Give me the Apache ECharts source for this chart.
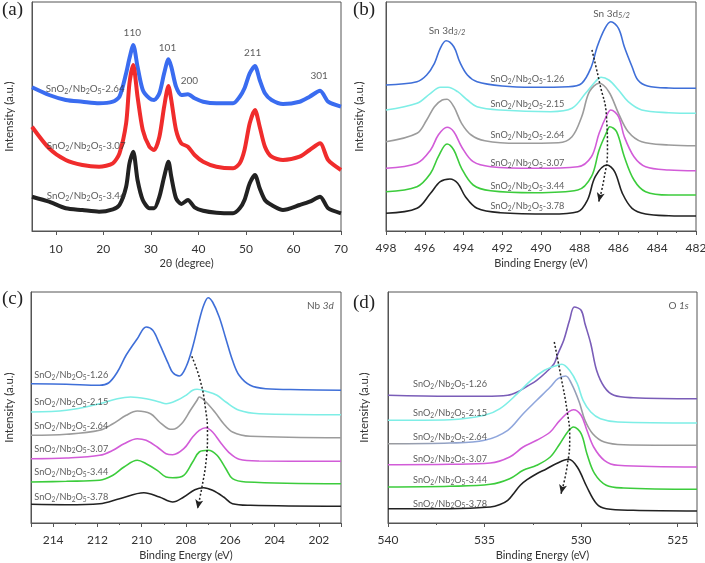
<!DOCTYPE html>
<html><head><meta charset="utf-8">
<script src="https://cdn.jsdelivr.net/npm/echarts@6/dist/echarts.min.js"></script>
<style>html,body{margin:0;padding:0;background:#fff}#c{width:705px;height:563px}</style>
</head><body><div id="c"></div>
<script>
// ---------------- DATA ----------------
const samples = ['1.26', '2.15', '2.64', '3.07', '3.44', '3.78'];
const xrdSamples = ['2.64', '3.07', '3.44'];
const xrdPeaks = ['110', '101', '200', '211', '301'];

// (a) XRD, 2θ (degree)
const xrdX = [5, 8.6, 12.1, 15.6, 19.1, 22.0, 23.4, 24.8, 25.5, 26.3, 27.2, 28.3, 29.7, 30.7, 31.8, 32.8, 33.7, 34.3, 35.3, 36.4, 37.8, 39.2, 41.0, 43.8, 47.3, 48.7, 49.7, 50.8, 51.9, 52.9, 54.0, 55.4, 57.8, 61.3, 63.4, 65.6, 67.3, 70];
const xrd264 = [143.7, 136, 131, 129.3, 127.7, 129.3, 134.3, 157.7, 172.7, 186, 164.3, 141, 132.7, 131, 137.7, 157.7, 171.7, 164.3, 144.3, 136, 136.7, 132.7, 129.3, 127.7, 127.7, 134.3, 142.7, 157.7, 165, 151, 137.7, 131, 127, 129.3, 134.3, 140.3, 129.3, 124.3];
const xrd307 = [104.3, 82.7, 71, 66, 64.3, 67.7, 77.7, 107.7, 147.7, 166, 134.3, 101, 84.3, 81, 94.3, 124.3, 145, 131, 101, 87.7, 84.3, 76, 69.3, 64.3, 62.7, 67.7, 81, 107.7, 121, 104.3, 84.3, 74.3, 71, 74.3, 81, 87.7, 71, 61];
const xrd344 = [34.3, 29.3, 22.7, 21, 19.3, 21.7, 26, 44.3, 67.7, 79.3, 51, 31, 22.7, 22.7, 34.3, 54.3, 69.3, 54.3, 32.7, 27, 31, 23.7, 20.3, 18.3, 17.7, 22.7, 31, 47.7, 56, 42.7, 31, 26, 21, 26, 29.3, 34.3, 22.7, 17.7];

// (b) Sn 3d  [binding energy, intensity]
const sn126 = [[498,146],[496.4,149.3],[495.9,156],[495.5,167.7],[495.2,182.7],[494.9,190.3],[494.5,184.3],[494.2,169.3],[493.8,156],[493.3,149.3],[492,145],[490.4,143.7],[488.6,144.3],[487.9,147.7],[487.4,164.3],[487.1,184.3],[486.7,202.7],[486.4,209.3],[486,202.7],[485.7,184.3],[485.3,164.3],[485,151],[484.5,145],[483.4,143],[482,142.7]];
const sn215 = [[498,121],[496.4,127.7],[495.7,137.7],[495.2,143.7],[494.8,143.7],[494.3,139.3],[493.8,131],[493.3,124.3],[492.1,121],[489.5,119.3],[488.4,122.7],[487.7,137.7],[487.2,149.3],[486.9,153.7],[486.5,151],[486,141],[485.5,129.3],[484.8,121],[483.4,118.3],[482,117.7]];
const sn264 = [[498,89.3],[496.4,97.7],[495.9,111],[495.5,124.3],[495.1,131],[494.85,131.7],[494.5,124.3],[494.1,107.7],[493.6,96],[492.9,90.3],[491.2,87.7],[489.1,88.3],[488.4,94.3],[487.9,114.3],[487.5,139.3],[487,147.7],[486.5,139.3],[486,117.7],[485.5,99.3],[484.8,89.3],[483.4,86],[482,85.3]];
const sn307 = [[498,62.7],[496.4,67.7],[495.7,81],[495.3,96],[494.85,103.7],[494.5,99.3],[494.1,84.3],[493.5,69.3],[492.6,64.3],[490.3,62.7],[488.1,64.3],[487.4,74.3],[487,97.7],[486.6,116],[486.4,121],[486,114.3],[485.7,94.3],[485.2,74.3],[484.6,64.3],[483.4,61],[482,60.3]];
const sn344 = [[498,39.3],[496.4,44.3],[495.7,57.7],[495.3,74.3],[494.85,87],[494.5,81],[494.1,62.7],[493.5,46],[492.6,40.3],[490.3,38.3],[488.1,41],[487.4,54.3],[487,81],[486.6,99.3],[486.45,104.3],[486.1,99.3],[485.7,74.3],[485.2,51],[484.6,39.3],[483.4,36],[482,36]];
const sn378 = [[498,17.7],[496.4,22.7],[495.7,37.7],[495.2,49.3],[494.7,52],[494.3,47.7],[493.9,34.3],[493.3,22.7],[492.1,18.3],[489.5,17],[488.1,19.3],[487.6,31],[487.2,54.3],[486.6,66],[486.2,59.3],[485.8,37.7],[485.3,22.7],[484.6,17],[483.4,15.3],[482,15]];

// (c) Nb 3d
const nb126 = [[215,139.3],[213.4,138.7],[211.9,137.7],[211.5,140],[211.1,151],[210.7,168],[210.2,184.3],[209.8,196],[209.5,192.7],[209.2,179.3],[208.8,159.3],[208.6,150.5],[208.3,147],[208,156],[207.7,176],[207.4,202.7],[207.2,217.7],[207,225.3],[206.8,221],[206.5,206],[206.2,184.3],[205.9,162.7],[205.6,147.7],[205.1,137.7],[204.4,134.3],[202.8,133.3],[201,132.7]];
const nb215 = [[215,111],[213.4,112.7],[211.9,119.3],[211.1,124.3],[210.5,126],[209.8,124.3],[209.2,121],[208.9,119.3],[208.4,122.7],[208,127.7],[207.7,132.7],[207.5,133.7],[207.1,131.7],[206.6,127.7],[206.2,121],[205.6,112.7],[204.7,109.3],[201,108.3]];
const nb264 = [[215,87.7],[213.4,88.7],[211.9,92.7],[211.3,99.3],[210.7,107.7],[210.2,112],[209.6,109.3],[209.2,101],[208.8,94.3],[208.6,93.7],[208.2,99.3],[207.8,112.7],[207.5,122.7],[207.4,126],[207.1,121],[206.7,111],[206.3,99.3],[205.9,91],[205.1,86.7],[201,85.3]];
const nb307 = [[215,64.3],[213.4,65],[211.9,67.7],[211.3,72.7],[210.8,79.3],[210.2,84.3],[209.8,82.7],[209.3,76],[208.9,69.3],[208.6,68.3],[208.1,74.3],[207.7,86],[207.4,92.7],[207.1,95.3],[206.8,91],[206.4,79.3],[206,69.3],[205.6,63.7],[204.7,62],[201,61.7]];
const nb344 = [[215,41],[213.4,41.7],[211.9,42.7],[211.3,47.7],[210.8,56],[210.2,62.7],[209.8,59.3],[209.3,52.7],[208.9,46],[208.6,45.3],[208.1,47.7],[207.7,61],[207.4,71],[207,72.7],[206.6,67.7],[206.2,54.3],[205.9,44.3],[205.3,41],[201,39.3]];
const nb378 = [[215,18.7],[213.4,18.3],[211.9,19.3],[211,24.3],[209.9,30.3],[209.2,26],[208.6,21],[208.1,26],[207.6,33.3],[207.2,35.3],[206.8,32.7],[206.3,26],[205.9,19.3],[205.1,17.7],[201,16.7]];

// (d) O 1s
const o126 = [[540,127.7],[536.8,126.7],[535,126.7],[533.8,127.7],[533.3,131],[532.8,136.7],[532.3,142.7],[531.8,151],[531.4,159.3],[531.2,169.3],[530.9,182.7],[530.6,202.7],[530.35,216],[530,212.7],[529.8,199.3],[529.5,179.3],[529.2,152.7],[528.8,136],[528.3,127.7],[527.3,125.3],[524,124.3]];
const o215 = [[540,102.7],[536.8,103.3],[535,107.7],[534.2,114.3],[533.3,129.3],[532.6,142.7],[531.9,152.7],[531.4,156.7],[531,158.7],[530.6,152.7],[530.2,139.3],[529.9,122.7],[529.5,111],[529,104.3],[528.1,101],[524,100]];
const o264 = [[540,79.3],[536.8,80],[535,82.7],[533.8,92.7],[533,109.3],[532.3,122.7],[531.6,136],[531.2,144.3],[530.8,147],[530.5,139.3],[530.1,121],[529.8,102.7],[529.4,89.3],[528.8,81],[527.8,78.3],[524,77.7]];
const o307 = [[540,58.3],[536.8,58.7],[534.7,60],[533.7,66],[533,76],[532.3,82.7],[531.6,91],[531.1,102.7],[530.4,113.3],[530,107.7],[529.7,92.7],[529.35,76],[528.8,62.7],[528.1,57.7],[524,56]];
const o344 = [[540,36],[536.8,36.7],[534.7,38.7],[533.7,44.3],[533,52.7],[532.3,57.7],[531.6,66],[531.1,79.3],[530.7,91],[530.4,96],[530,89.3],[529.7,69.3],[529.3,49.3],[528.7,37.7],[527.8,35],[524,33.7]];
const o378 = [[540,14.3],[536.8,14.3],[534.7,16],[534.2,18.5],[533.8,22.7],[533.5,29.3],[533.15,37.7],[532.8,43.3],[532.3,49.3],[531.8,54],[531.3,59.3],[530.65,63.7],[530.2,56],[529.7,36],[529.2,19.3],[528.7,14.3],[527.3,12.7],[524,12]];

// shift-trend arrows (dotted guides)
const trendB = [[487.37,181],[486.97,147.7],[486.62,114.3],[486.57,81],[486.76,51],[487.02,29.3]];
const trendC = [[207.74,166.7],[207.36,142.7],[207.13,116],[207.03,89.3],[207.09,62.7],[207.28,36],[207.48,14.3]];
const trendD = [[531.39,181],[531.04,146],[530.73,112.7],[530.59,86],[530.73,56],[531.04,29.3]];

// ---------------- ANNOTATION ANCHORS (data coords) ----------------
const xrdPeakAt = [[26.1,198],[33.5,183],[38.1,150],[51.4,178],[65.4,155]];
const xrdLabelAt = [[16.2,142],[16.4,85],[16.4,35]];
const snLabelAt = [[490.7,152],[490.7,127],[490.7,96],[490.7,68],[490.7,45],[490.7,25]];
const nbLabelAt = [[214.85,147.7],[214.85,121],[214.85,97],[214.85,74.3],[214.85,51],[214.85,26]];
const oLabelAt = [[538.7,138.7],[538.7,110],[538.7,86],[538.7,64.3],[538.7,42.7],[538.7,19.3]];

// ---------------- STYLE ----------------
const F = "Lato, 'Open Sans', sans-serif";
const TXT = '#333';
const AX = '#555';
const C = {blue:'#3f6fd8', cyan:'#7eeee6', gray:'#9c9c9c', mag:'#d25cd8', green:'#3ccc3c', black:'#222', purple:'#7a5db8', xblue:'#3a6cf0', xred:'#f02c2c'};
const rich = {
  n: {fontFamily: F, fontSize: 9.2, color: TXT, lineHeight: 12},
  s: {fontFamily: F, fontSize: 6.6, color: TXT, lineHeight: 8, verticalAlign: 'bottom'},
  na: {fontFamily: F, fontSize: 9.8, color: TXT, lineHeight: 12},
  sa: {fontFamily: F, fontSize: 7, color: TXT, lineHeight: 8, verticalAlign: 'bottom'},
  si: {fontFamily: F, fontSize: 7.5, color: TXT, lineHeight: 8, verticalAlign: 'bottom', fontStyle: 'italic'},
  i: {fontFamily: F, fontSize: 10, color: TXT, lineHeight: 12, fontStyle: 'italic'},
  p: {fontFamily: F, fontSize: 10, color: TXT, lineHeight: 12}
};
const sampleText = v => '{n|SnO}{s|2}{n|/Nb}{s|2}{n|O}{s|5}{n|-' + v + '}';
const sampleTextA = v => '{na|SnO}{sa|2}{na|/Nb}{sa|2}{na|O}{sa|5}{na|-' + v + '}';

const grids = [
  {left: 32, top: 2, width: 309, height: 229},
  {left: 386, top: 2, width: 310, height: 229},
  {left: 31, top: 292, width: 310, height: 231},
  {left: 388, top: 292, width: 309, height: 231}
].map(g => Object.assign(g, {show: true, borderColor: AX, borderWidth: 1, backgroundColor: 'transparent', containLabel: false, outerBoundsMode: 'none'}));

const tickLabel = {color: TXT, fontFamily: F, fontSize: 12, margin: 11};
function xAxis(idx, o) {
  return Object.assign({
    type: 'value', gridIndex: idx,
    axisLine: {show: true, lineStyle: {color: AX, width: 1}},
    axisTick: {show: true, inside: false, length: 4, lineStyle: {color: AX}},
    minorTick: {show: false},
    splitLine: {show: false}, minorSplitLine: {show: false},
    axisLabel: tickLabel,
    nameLocation: 'middle', nameGap: 27,
    nameTextStyle: {color: TXT, fontFamily: F, fontSize: 11}
  }, o);
}
function yAxis(idx, max, gap) {
  return {
    type: 'value', gridIndex: idx, min: 0, max: max,
    axisLine: {show: true, lineStyle: {color: AX}}, axisTick: {show: false},
    axisLabel: {show: false}, splitLine: {show: false},
    name: 'Intensity (a.u.)', nameLocation: 'middle', nameGap: gap,
    nameTextStyle: {color: TXT, fontFamily: F, fontSize: 11.5}
  };
}
const minor = {show: true, splitNumber: 2, length: 2, lineStyle: {color: AX}};

function line(idx, data, color, width, smooth) {
  return {type: 'line', xAxisIndex: idx, yAxisIndex: idx, data: data, symbol: 'none',
    smooth: smooth, lineStyle: {color: color, width: width}, silent: true, animation: false, z: 2};
}
function trend(idx, data, rot) {
  const d = data.map((p, i) => i === data.length - 1
    ? {value: p, symbol: 'arrow', symbolSize: [6, 9], symbolRotate: rot, itemStyle: {color: '#222'}}
    : {value: p});
  return {type: 'line', xAxisIndex: idx, yAxisIndex: idx, data: d, symbol: 'none', showSymbol: true,
    showAllSymbol: true, smooth: 0.5, lineStyle: {color: '#222', width: 1.5, type: [2, 2]},
    silent: true, animation: false, z: 5};
}
function labels(idx, items, align) {
  return {type: 'scatter', xAxisIndex: idx, yAxisIndex: idx, symbolSize: 0, silent: true, animation: false, z: 6,
    data: items.map(it => ({value: it[0], label: {formatter: it[1]}})),
    label: {show: true, position: 'inside', align: align, verticalAlign: 'middle', rich: rich,
      color: TXT, fontFamily: F, fontSize: 10}};
}

const series = [];
// (a)
const zipX = ys => xrdX.map((x, i) => [x, ys[i]]);
series.push(line(0, zipX(xrd264), C.xblue, 4, 0.25));
series.push(line(0, zipX(xrd307), C.xred, 4, 0.25));
series.push(line(0, zipX(xrd344), C.black, 4, 0.25));
series.push(labels(0, xrdSamples.map((s, i) => [xrdLabelAt[i], sampleTextA(s)]), 'center'));
series.push(labels(0, xrdPeaks.map((s, i) => [xrdPeakAt[i], '{p|' + s + '}']), 'center'));
// (b)
[[sn126, C.blue], [sn215, C.cyan], [sn264, C.gray], [sn307, C.mag], [sn344, C.green], [sn378, C.black]]
  .forEach(([d, c]) => series.push(line(1, d, c, 1.6, 0.35)));
series.push(labels(1, samples.map((s, i) => [snLabelAt[i], sampleText(s)]), 'center'));
series.push(labels(1, [[[494.85, 200], '{p|Sn 3d}{si|3/2}'], [[486.36, 217], '{p|Sn 3d}{si|5/2}']], 'center'));
series.push(trend(1, trendB, 167));
// (c)
[[nb126, C.blue], [nb215, C.cyan], [nb264, C.gray], [nb307, C.mag], [nb344, C.green], [nb378, C.black]]
  .forEach(([d, c]) => series.push(line(2, d, c, 1.6, 0.35)));
series.push(labels(2, samples.map((s, i) => [nbLabelAt[i], sampleText(s)]), 'left'));
series.push(labels(2, [[[201.93, 217.7], '{p|Nb }{i|3d}']], 'center'));
series.push(trend(2, trendC, 169));
// (d)
const grayBlue = new echarts.graphic.LinearGradient(0, 0, 1, 0, [
  {offset: 0, color: '#9a9a9a'}, {offset: 0.3, color: '#8fa6dc'}, {offset: 0.56, color: '#8fa6dc'},
  {offset: 0.64, color: '#9a9a9a'}, {offset: 1, color: '#9a9a9a'}]);
[[o126, C.purple], [o215, C.cyan], [o264, grayBlue], [o307, C.mag], [o344, C.green], [o378, C.black]]
  .forEach(([d, c]) => series.push(line(3, d, c, 1.6, 0.35)));
series.push(labels(3, samples.map((s, i) => [oLabelAt[i], sampleText(s)]), 'left'));
series.push(labels(3, [[[524.95, 217.7], '{p|O }{i|1s}']], 'center'));
series.push(trend(3, trendD, 167));

const titleStyle = {fontFamily: "'Liberation Serif', 'DejaVu Serif', serif", fontSize: 19, fontWeight: 'normal', color: '#222'};
const option = {
  animation: false,
  backgroundColor: '#fff',
  title: [
    {text: '(a)', left: 0, top: -1, textStyle: titleStyle, padding: 2},
    {text: '(b)', left: 351, top: -1, textStyle: titleStyle, padding: 2},
    {text: '(c)', left: 0, top: 288, textStyle: titleStyle, padding: 2},
    {text: '(d)', left: 351, top: 292, textStyle: titleStyle, padding: 2}
  ],
  grid: grids,
  xAxis: [
    xAxis(0, {min: 5, max: 70, splitNumber: 6, name: '2θ (degree)', nameGap: 27,
      axisLabel: Object.assign({}, tickLabel, {margin: 12, showMinLabel: false})}),
    xAxis(1, {min: 482, max: 498, interval: 2, inverse: true, minorTick: minor, name: 'Binding Energy (eV)', nameGap: 27}),
    xAxis(2, {min: 201, max: 215, splitNumber: 7, inverse: true, minorTick: minor, name: 'Binding Energy (eV)', nameGap: 27,
      axisLabel: Object.assign({}, tickLabel, {showMinLabel: false, showMaxLabel: false})}),
    xAxis(3, {min: 524, max: 540, splitNumber: 3, inverse: true, minorTick: minor, name: 'Binding Energy (eV)', nameGap: 27,
      axisLabel: Object.assign({}, tickLabel, {showMinLabel: false})})
  ],
  yAxis: [yAxis(0, 229, 17), yAxis(1, 229, 21), yAxis(2, 231, 16), yAxis(3, 231, 18)],
  series: series
};
const chart = echarts.init(document.getElementById('c'), null, {renderer: 'canvas'});
chart.setOption(option);
</script></body></html>
